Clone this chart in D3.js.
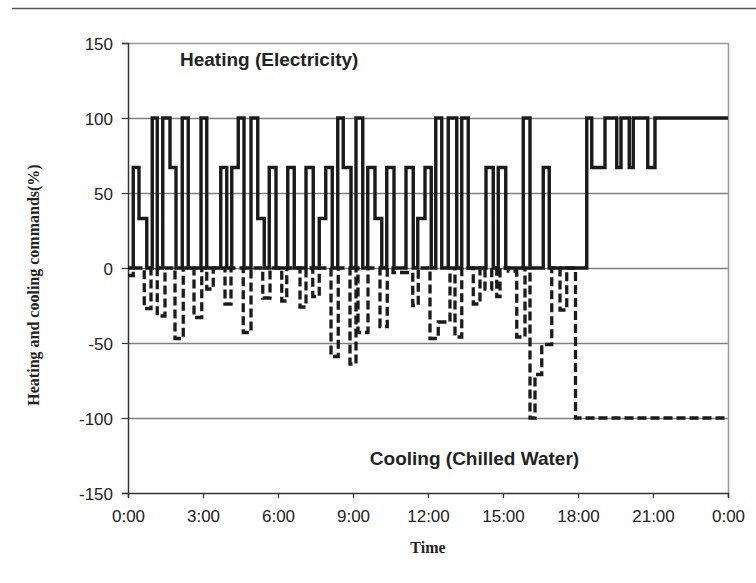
<!DOCTYPE html>
<meta charset="utf-8">
<style>
body { margin: 0; background: #fff; }
.tick text { font-family: Arial, "Liberation Sans", sans-serif; font-size: 17px; fill: #222; }
.label-in { font-family: Arial, "Liberation Sans", sans-serif; font-size: 19px; font-weight: bold; fill: #222; }
.label-ax { font-family: "Times New Roman", "Liberation Serif", serif; font-size: 16px; font-weight: bold; fill: #222; }
</style>

<svg width="756" height="583"></svg>

<script src="https://d3js.org/d3.v7.min.js"></script>
<script>

// step changes: [hour, command %]
var heatHours = [0, 0.21, 0.44, 0.75, 0.97, 1.17, 1.39, 1.68, 1.92, 2.17, 2.41, 2.92, 3.15, 3.71, 3.95, 4.15, 4.41, 4.64, 4.92, 5.19, 5.45, 5.65, 5.92, 6.39, 6.65, 7.12, 7.41, 7.65, 7.91, 8.17, 8.39, 8.61, 8.92, 9.12, 9.39, 9.59, 9.88, 10.15, 10.35, 10.64, 11.12, 11.41, 11.59, 11.88, 12.13, 12.31, 12.55, 12.81, 13.15, 13.35, 13.61, 14.32, 14.61, 14.81, 15.11, 15.81, 16.08, 16.61, 16.85, 18.35, 18.55, 19.08, 19.55, 19.72, 20.05, 20.21, 20.79, 21.08, 24];
var heatValues = [0, 67, 33, 0, 100, 0, 100, 67, 0, 100, 0, 100, 0, 67, 0, 67, 100, 0, 100, 33, 0, 67, 0, 67, 0, 67, 0, 33, 67, 0, 100, 67, 0, 100, 0, 67, 33, 0, 67, 0, 67, 0, 33, 67, 0, 100, 0, 100, 0, 100, 0, 67, 0, 67, 0, 100, 0, 67, 0, 100, 67, 100, 67, 100, 67, 100, 67, 100, 100];

var coolHours = [0, 0.21, 0.65, 0.92, 1.17, 1.48, 1.88, 2.21, 2.64, 2.95, 3.15, 3.41, 3.88, 4.12, 4.61, 4.92, 5.39, 5.68, 6.15, 6.35, 6.88, 7.12, 7.39, 7.65, 8.12, 8.41, 8.88, 9.12, 9.2, 9.6, 10.08, 10.37, 10.6, 11.39, 11.61, 12.08, 12.41, 12.88, 13.08, 13.35, 13.81, 14.08, 14.28, 14.55, 14.75, 14.88, 15.21, 15.55, 15.88, 16.08, 16.28, 16.55, 16.95, 17.28, 17.55, 17.9, 24];
var coolValues = [-5, 0, -27, 0, -32, 0, -47, 0, -33, 0, -14, 0, -24, 0, -43, 0, -20, 0, -22, 0, -26, 0, -19, 0, -59, 0, -64, 0, -43, 0, -39, 0, -3, -25, 0, -47, -36, 0, -46, 0, -24, 0, -14, 0, -19, 0, -2, -46, 0, -100, -71, -51, 0, -28, 0, -100, -100];

var yTicks = [-150, -100, -50, 0, 50, 100, 150];
var gridValues = [-100, -50, 0, 50, 100];
var xTicks = [0, 3, 6, 9, 12, 15, 18, 21, 24];
var xTickLabels = ["0:00", "3:00", "6:00", "9:00", "12:00", "15:00", "18:00", "21:00", "0:00"];

var svg = d3.select("svg");

var margin = {left: 128, right: 28, top: 43, bottom: 90},
    width = 756 - margin.left - margin.right,
    height = 583 - margin.top - margin.bottom;

// rule across the top of the page
svg.append("line")
    .attr("x1", 12).attr("x2", 756)
    .attr("y1", 8.5).attr("y2", 8.5)
    .attr("stroke", "#555").attr("stroke-width", 1.5);

var g = svg.append("g").attr("transform", "translate(" + margin.left + "," + margin.top + ")");

var x = d3.scaleLinear().domain([0, 24]).range([0, width]);
var y = d3.scaleLinear().domain([-150, 150]).range([height, 0]);

// grid
g.selectAll(".grid")
  .data(gridValues)
  .enter().append("line")
    .attr("class", "grid")
    .attr("x1", 0).attr("x2", width)
    .attr("y1", d => Math.round(y(d)) + 0.5).attr("y2", d => Math.round(y(d)) + 0.5)
    .attr("stroke", "#808080").attr("stroke-width", 1.3);

// frame top and right
g.append("path")
    .attr("d", "M0.5,0.5H" + (width + 0.5) + "V" + height)
    .attr("fill", "none").attr("stroke", "#999").attr("stroke-width", 1.5);

// axes
var yAxis = g.append("g")
    .call(d3.axisLeft(y).tickValues(yTicks).tickSize(6).tickPadding(9)
      .tickFormat(d => String(d)));
var xAxis = g.append("g")
    .attr("transform", "translate(0," + height + ")")
    .call(d3.axisBottom(x).tickValues(xTicks).tickSize(5).tickPadding(12)
      .tickFormat((d, i) => xTickLabels[i]));

[yAxis, xAxis].forEach(a => {
  a.select(".domain").attr("stroke", "#333").attr("stroke-width", 1.5);
  a.selectAll(".tick line").attr("stroke", "#333").attr("stroke-width", 1.2);
});
yAxis.selectAll(".tick text").attr("dy", "0.36em");

var line = d3.line()
    .x(d => x(d[0]))
    .y(d => y(d[1]))
    .curve(d3.curveStepAfter);

var coolData = d3.zip(coolHours, coolValues);
var heatData = d3.zip(heatHours, heatValues);

g.append("path")
    .datum(coolData)
    .attr("d", line)
    .attr("fill", "none")
    .attr("stroke", "#1a1a1a")
    .attr("stroke-width", 3.3)
    .attr("stroke-dasharray", "9,4");

g.append("path")
    .datum(heatData)
    .attr("d", line)
    .attr("fill", "none")
    .attr("stroke", "#1a1a1a")
    .attr("stroke-width", 3.4)
    .attr("stroke-linejoin", "miter");

// labels
g.append("text").attr("class", "label-in")
    .attr("x", x(2.08)).attr("y", y(134.5))
    .text("Heating (Electricity)");

g.append("text").attr("class", "label-in")
    .attr("x", x(13.86)).attr("y", y(-131))
    .attr("text-anchor", "middle")
    .text("Cooling (Chilled Water)");

svg.append("text").attr("class", "label-ax")
    .attr("transform", "translate(39," + 285 + ") rotate(-90)")
    .attr("text-anchor", "middle")
    .text("Heating and cooling commands(%)");

svg.append("text").attr("class", "label-ax")
    .attr("x", margin.left + x(12)).attr("y", 553)
    .attr("text-anchor", "middle")
    .text("Time");

</script>
